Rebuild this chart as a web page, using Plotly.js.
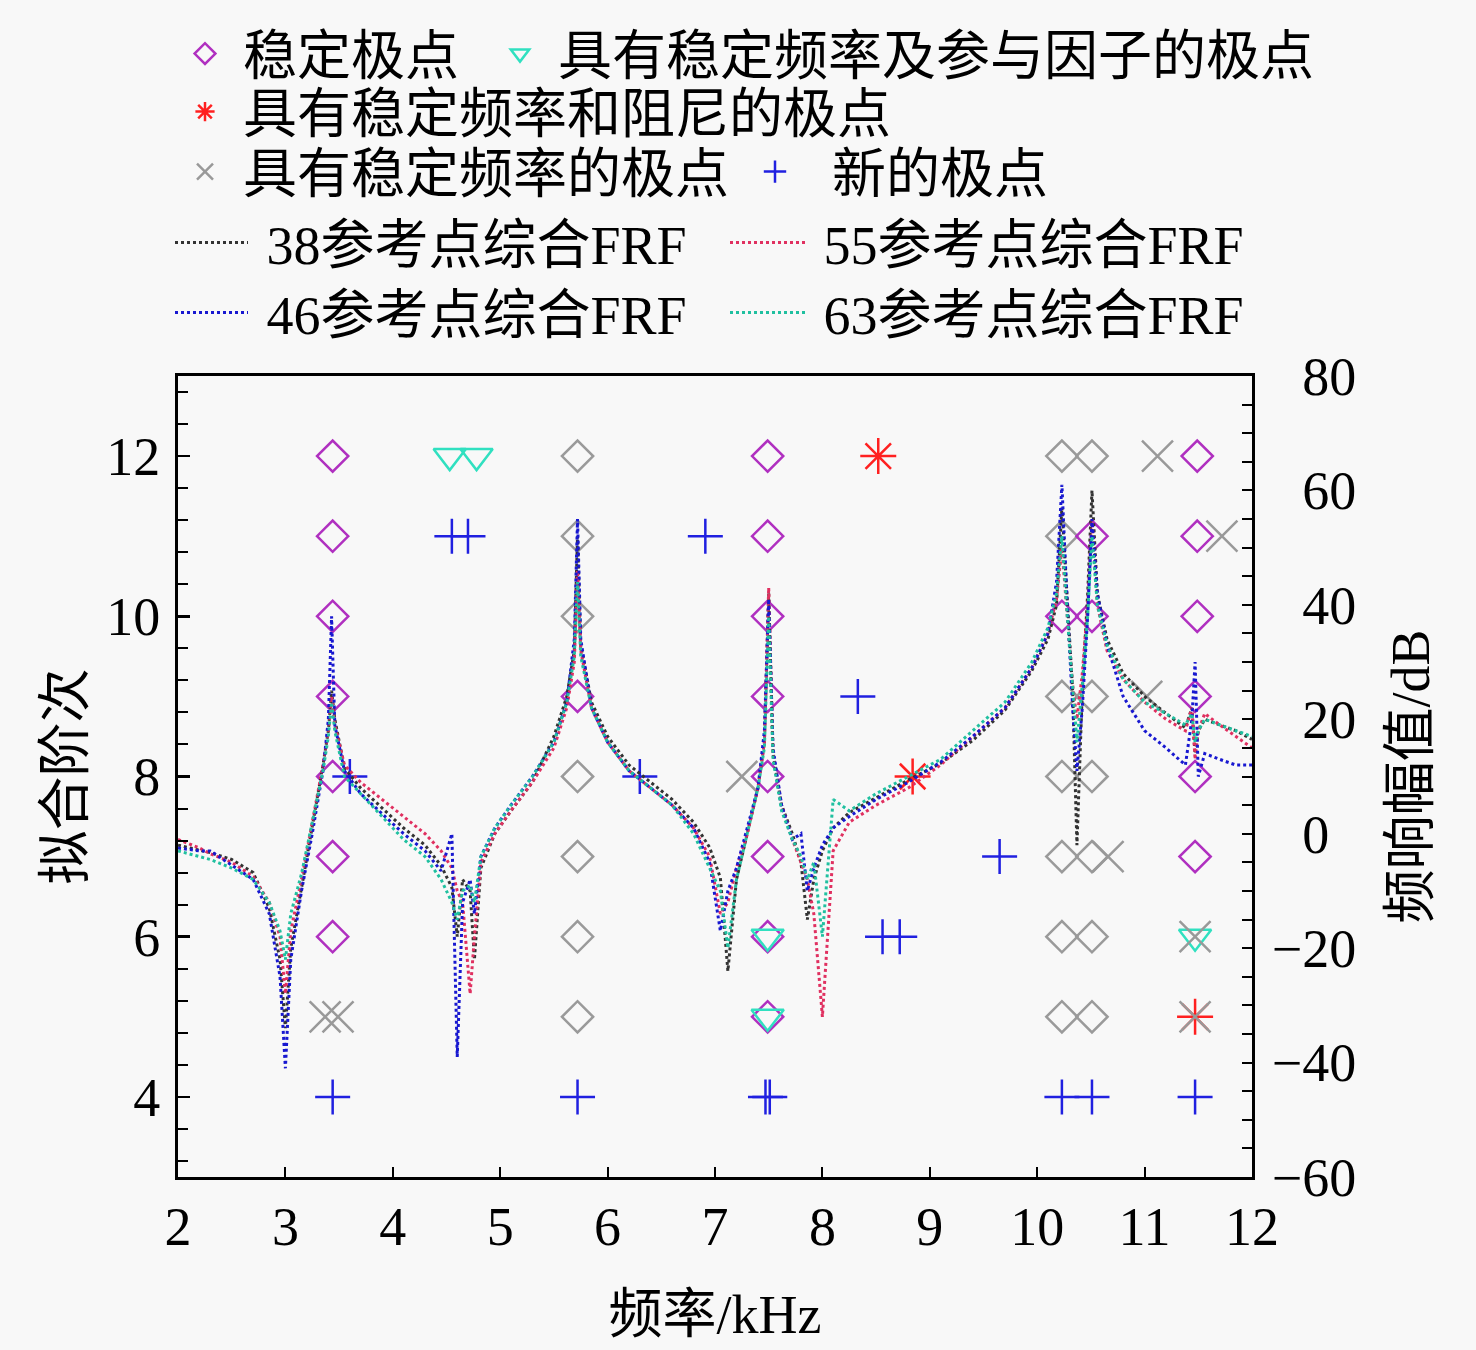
<!DOCTYPE html>
<html><head><meta charset="utf-8">
<script src="https://cdn.plot.ly/plotly-3.0.1.min.js"></script>
<style>body{margin:0;background:#f8f8f8}</style>
</head><body><div id="chart" style="width:1476px;height:1350px"></div>
<script>
// ---- FRF data (frequency in kHz, magnitude in dB) ----
const freq = [
 2.0, 2.2, 2.3, 2.5, 2.7, 2.85, 2.95, 3.0, 3.05, 3.15,
 3.25, 3.35, 3.40, 3.43, 3.46, 3.55, 3.7, 3.9, 4.1, 4.3,
 4.45, 4.55, 4.6, 4.65, 4.72, 4.76, 4.82, 4.95, 5.1, 5.3,
 5.5, 5.62, 5.69, 5.72, 5.75, 5.85, 6.0, 6.2, 6.4, 6.6,
 6.8, 6.95, 7.05, 7.12, 7.2, 7.3, 7.4, 7.46, 7.5, 7.54,
 7.62, 7.72, 7.8, 7.86, 7.92, 8.0, 8.1, 8.25, 8.5, 8.8,
 9.1, 9.4, 9.7, 9.95, 10.1, 10.18, 10.23, 10.28, 10.33, 10.37,
 10.42, 10.47, 10.51, 10.56, 10.65, 10.8, 11.0, 11.2, 11.38, 11.44,
 11.47, 11.5, 11.56, 11.7, 11.85, 12.0];
const frf38 = [
 -2, -2.8, -3.3, -4.5, -6.8, -13, -22, -34, -20, -9.5,
 1, 12, 18, 25, 20, 11.5, 8, 4.5, 1, -2,
 -5.6, -9.4, -18, -8, -10, -22, -6, 0, 4, 9,
 17, 24, 32, 52, 33, 23, 17, 12, 9, 6,
 2, -2.4, -7.7, -24, -8, 0, 8, 16, 42, 14,
 5, 0, -5, -15, -8, -3, 1, 3.7, 6.3, 9.4,
 12.3, 16.3, 21.6, 28.5, 34, 40, 57, 40, 25, -2,
 25, 42, 60, 42, 34, 28, 24, 21, 18.5, 22,
 14, 18, 20, 19, 18, 16.5];
const frf46 = [
 -2.5, -3, -3, -5.5, -8, -14, -25, -41, -22, -10,
 0, 11, 20, 38, 19, 11, 7, 3.5, 0, -3,
 -6.5, 0, -39, -12, -8, -14, -4, 1, 5, 10,
 16, 23, 34, 55, 34, 22, 16, 11, 8, 5,
 1, -5, -17, -10, -6, 1, 8, 18, 41, 15,
 5, -1, 0, -10, -6, -2, 1, 3, 6, 9,
 12.5, 17, 22, 29, 35, 44, 61, 40, 22, 11,
 22, 38, 55, 42, 33, 24, 18, 15, 12, 20,
 30, 10, 14, 13, 12, 12];
const frf55 = [
 -1, -2.5, -3.5, -5, -7.5, -12, -18, -28, -17, -8,
 2, 12, 18, 24, 19, 12, 9, 6, 3, 0,
 -3, -6, -10, -12, -28, -18, -5, 0, 4, 9,
 15, 22, 30, 46, 32, 22, 16, 11, 8, 5,
 1, -4, -14, -12, -6, 0, 8, 16, 43, 14,
 5, -1, -5, -8, -14, -32, -3, 2, 5, 8,
 12, 17, 22, 29, 35, 41, 50, 38, 26, 20,
 28, 40, 55, 40, 32, 27, 23, 20, 18, 22,
 13, 18, 21, 19, 17, 15];
const frf63 = [
 -3, -4, -4.5, -6, -8, -12, -17, -22, -14, -7,
 2, 11, 17, 23, 18, 10, 7, 3, -1, -4,
 -8, -12, -15, -10, -9, -12, -4, 1, 5, 10,
 16, 23, 31, 44, 31, 22, 16, 11, 8, 5,
 0, -6, -10, -20, -8, 0, 8, 15, 38, 13,
 4, -1, -4, -8, -5, -18, 6, 4, 7, 10,
 13, 18, 23, 30, 36, 42, 52, 38, 25, 16,
 26, 38, 52, 40, 33, 27, 23, 21, 19, 21,
 16, 18, 20, 19, 18, 17];

// ---- stabilization diagram poles (frequency kHz, model order) ----
const stableX = [3.44,3.44,3.44,3.44,3.44,3.44,3.44, 5.72, 7.49,7.49,7.49,7.49,7.49,7.49,7.49,7.49, 10.23,10.51,10.51, 11.49,11.49,11.49,11.47,11.47,11.47];
const stableY = [12,11,10,9,8,7,6, 9, 12,11,10,9,8,7,6,5, 10,10,11, 12,11,10,9,8,7];
const greyDiaX = [5.72,5.72,5.72,5.72,5.72,5.72,5.72, 10.23,10.23,10.23,10.23,10.23,10.23,10.23, 10.51,10.51,10.51,10.51,10.51,10.51];
const greyDiaY = [12,11,10,8,7,6,5, 12,11,9,8,7,6,5, 12,9,8,7,6,5];
const triX = [4.53,4.78,7.49,7.49,11.47];
const triY = [12,12,6,5,6];
const astX = [8.52,8.84,11.47];
const astY = [12,8,5];
const crossX = [3.37,3.49,7.25,10.66,11.12,11.72,11.02,11.47,11.47];
const crossY = [5,5,8,7,12,11,9,6,5];
const newX = [3.44,3.6,4.55,4.70,5.72,6.3,6.91,7.47,7.51,8.33,8.56,8.72,9.65,10.23,10.51,11.47];
const newY = [4,8,11,11,4,8,11,4,4,9,6,6,7,4,4,4];

// right axis: non-negative labels get an invisible minus so digits line up
const dbPositive = ['0','20','40','60','80'];
const dbAlias = {};
dbPositive.forEach(t => { dbAlias[t] = '<span style="color:rgba(0,0,0,0)">\u2212</span>' + t; });

const FONT = '"Liberation Serif", "Noto Sans CJK SC", serif';
const FS = 54;

function mk(x, y, name, symbol, color, size, legend) {
  return {x, y, name, type:'scatter', mode:'markers', yaxis:'y', legend,
    marker:{symbol, size, color, line:{color, width:2.5}}};
}
function ln(y, name, color, legend) {
  return {x:freq, y, name, type:'scatter', mode:'lines', yaxis:'y2', legend,
    line:{color, width:3, dash:'dot'}};
}

const traces = [
  mk(greyDiaX, greyDiaY, '稳定极点', 'diamond-open', '#9a9a9a', 24, 'legend'),
  mk(stableX, stableY, '稳定极点', 'diamond-open', '#b030c0', 24, 'legend'),
  mk(triX, triY, '具有稳定频率及参与因子的极点', 'triangle-down-open', '#30e0c0', 28, 'legend2'),
  mk(astX, astY, '具有稳定频率和阻尼的极点', 'asterisk-open', '#ff2020', 30, 'legend3'),
  mk(crossX, crossY, '具有稳定频率的极点', 'x-thin-open', '#999999', 31, 'legend4'),
  mk(newX, newY, '新的极点', 'cross-thin-open', '#2020e0', 25, 'legend5'),
  ln(frf38, '\u00a038参考点综合FRF', '#333333', 'legend6'),
  ln(frf55, '\u00a055参考点综合FRF', '#e03060', 'legend7'),
  ln(frf46, '\u00a046参考点综合FRF', '#1818d0', 'legend8'),
  ln(frf63, '\u00a063参考点综合FRF', '#20c0a0', 'legend9')
];
traces[0].showlegend = false;

const TOP = 376;
// legend position given in figure pixels, converted to paper coordinates
function leg(px, py, iw) {
  return {x:(px-178)/1074, y:(1177-py)/(1177-TOP),
    xanchor:'left', yanchor:'middle', orientation:'v',
    bgcolor:'rgba(0,0,0,0)', borderwidth:0,
    font:{family:FONT, size:FS, color:'#000'}, itemwidth:iw};
}

const axisBase = {showline:true, linecolor:'#000', linewidth:3, showgrid:false, zeroline:false,
  ticks:'inside', tickcolor:'#000', tickfont:{family:FONT, size:FS, color:'#000'}};

const layout = {
  width:1476, height:1350,
  paper_bgcolor:'#f8f8f8', plot_bgcolor:'#f8f8f8',
  margin:{l:178, r:224, t:TOP, b:173},
  font:{family:FONT, size:FS, color:'#000'},
  xaxis:Object.assign({}, axisBase, {range:[2,12], dtick:1, tick0:0, ticklen:10, tickwidth:2, mirror:true,
    title:{text:'频率/kHz', font:{family:FONT, size:FS}, standoff:40}}),
  yaxis:Object.assign({}, axisBase, {range:[3,13], dtick:2, tick0:0, ticklen:12, tickwidth:2.5,
    ticklabelstandoff:4,
    minor:{dtick:0.4, tick0:0, ticks:'inside', ticklen:10, tickwidth:2, tickcolor:'#000'},
    title:{text:'拟合阶次', font:{family:FONT, size:FS}, standoff:5}}),
  yaxis2:Object.assign({}, axisBase, {overlaying:'y', side:'right', range:[-60,80], dtick:20, tick0:0,
    labelalias:dbAlias, ticklen:10, tickwidth:2, ticklabelstandoff:6,
    minor:{dtick:5, tick0:0, ticks:'inside', ticklen:10, tickwidth:2, tickcolor:'#000'},
    title:{text:'频响幅值/dB', font:{family:FONT, size:FS}, standoff:36}}),
  legend:leg(167, 54, 66),
  legend2:leg(482, 54, 66),
  legend3:leg(167, 112, 66),
  legend4:leg(167, 172, 66),
  legend5:leg(718, 172, 104),
  legend6:leg(170, 243, 73),
  legend7:leg(725, 243, 75),
  legend8:leg(170, 313, 73),
  legend9:leg(725, 313, 75)
};

Plotly.newPlot('chart', traces, layout, {displayModeBar:false, staticPlot:true});
</script></body></html>
